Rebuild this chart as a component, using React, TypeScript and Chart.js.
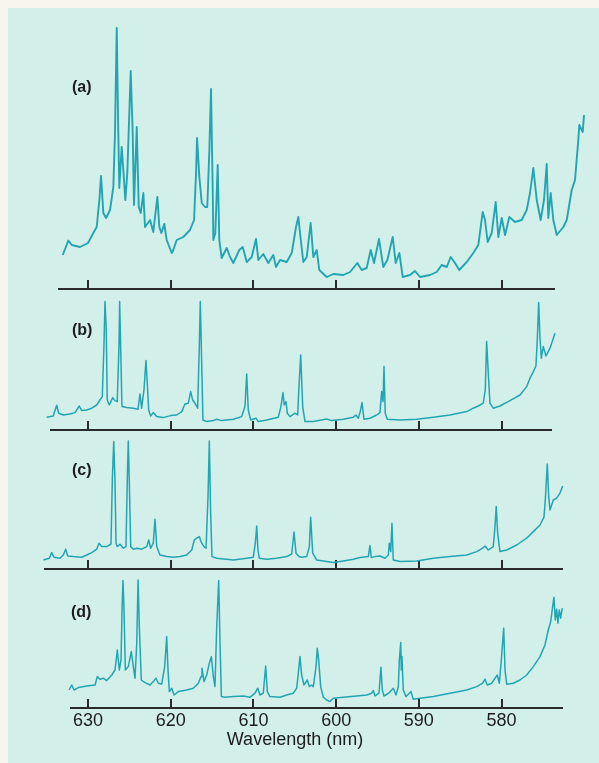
import React, { useEffect, useRef } from 'react';
import { Chart, registerables } from 'chart.js';

Chart.register(...registerables);

// ---------- data ----------
const TICKS = [630, 620, 610, 600, 590, 580];
const PANEL_LABELS = ['(a)', '(b)', '(c)', '(d)'];
const X_TITLE = 'Wavelength (nm)';

// (a) wavelength (nm) / relative intensity (arb.)
const WL_A = [633.06, 632.38, 631.97, 630.97, 630.0, 629.36, 628.95, 628.63, 628.43, 628.15, 627.82, 627.34, 626.94, 626.74, 626.53, 626.34, 626.22, 625.93, 625.73, 625.49, 625.25, 624.84, 624.6, 624.44, 624.11, 623.87, 623.63, 623.31, 623.11, 622.5, 622.11, 621.62, 621.38, 621.14, 620.78, 620.49, 619.88, 619.69, 619.28, 618.48, 617.67, 617.18, 616.94, 616.82, 616.54, 616.25, 615.85, 615.58, 615.33, 615.13, 614.92, 614.85, 614.61, 614.32, 614.13, 613.84, 613.23, 612.83, 612.43, 611.71, 611.3, 610.81, 610.21, 609.69, 609.41, 608.81, 608.2, 607.6, 607.27, 606.79, 605.98, 605.37, 604.85, 604.57, 604.37, 603.97, 603.56, 603.08, 602.76, 602.35, 602.04, 601.14, 600.34, 599.13, 598.32, 597.44, 596.91, 596.31, 595.82, 595.42, 594.82, 594.3, 593.81, 593.16, 592.8, 592.36, 591.95, 591.07, 590.47, 589.86, 588.65, 587.84, 587.24, 586.63, 586.15, 585.63, 585.11, 584.21, 583.42, 582.81, 582.28, 582.0, 581.68, 581.19, 580.71, 580.39, 579.98, 579.58, 579.06, 578.38, 577.57, 576.96, 576.56, 576.16, 575.75, 575.27, 574.87, 574.54, 574.35, 574.06, 573.74, 573.33, 572.53, 572.12, 571.52, 571.12, 570.72, 570.6, 570.19, 570.03];
const INT_A = [17, 24.2, 22, 21, 23, 28, 31, 44.5, 56.5, 38, 35.5, 39.5, 51, 78, 130.5, 78, 50.5, 71, 59.5, 44.5, 58, 109, 78, 42, 81, 41, 38, 48, 31, 34.5, 28.5, 46, 31, 28, 32.5, 24.5, 18, 19.5, 24.5, 26, 29.5, 34.5, 58, 75.5, 56, 43, 41, 41, 69.5, 100, 48, 24.5, 28, 62, 24.5, 15.5, 20.5, 16, 13, 19.5, 21, 13.5, 16, 25, 14.5, 17.5, 13, 17, 11, 14.5, 13.5, 18, 31, 36, 28, 13.5, 16, 33, 16, 19.5, 9.5, 6, 7.5, 7, 8.5, 13, 9.5, 10.5, 19.5, 13, 25, 11, 14.5, 26, 13, 18, 6, 7, 9, 6, 7, 8.5, 12, 11, 16, 13, 9.5, 13.5, 18, 22, 38.5, 34.5, 23.5, 28, 43.5, 26, 35.5, 27, 36, 33.5, 34.5, 39.5, 48, 60.5, 44.5, 34.5, 44.5, 62.5, 35.5, 48, 34.5, 27, 31, 34.5, 49.5, 54.5, 74.5, 82, 78.5, 87];

// (b)
const WL_B = [634.99, 634.2, 633.78, 633.54, 632.99, 632.18, 631.57, 631.05, 630.76, 630.16, 629.55, 628.95, 628.55, 628.27, 628.07, 627.94, 627.79, 627.67, 627.42, 627.01, 626.74, 626.46, 626.25, 626.17, 626.05, 625.89, 625.32, 624.52, 623.95, 623.71, 623.51, 623.23, 622.99, 622.83, 622.66, 622.42, 622.11, 621.69, 620.9, 620.0, 619.28, 618.67, 618.27, 617.87, 617.58, 617.34, 617.06, 616.74, 616.54, 616.42, 616.25, 616.1, 615.65, 614.85, 614.44, 613.84, 612.43, 611.42, 611.02, 610.81, 610.62, 610.33, 609.69, 609.41, 608.39, 606.99, 606.67, 606.42, 606.27, 606.06, 605.9, 605.58, 604.97, 604.65, 604.49, 604.28, 604.04, 603.76, 602.76, 601.14, 600.54, 599.13, 597.92, 597.6, 597.32, 597.08, 596.87, 596.63, 595.91, 595.1, 594.7, 594.49, 594.33, 594.21, 594.06, 593.81, 592.28, 590.26, 588.25, 586.23, 584.21, 583.42, 582.81, 582.21, 581.97, 581.8, 581.6, 581.4, 581.0, 580.19, 578.98, 577.77, 576.96, 576.56, 576.16, 575.84, 575.68, 575.51, 575.35, 575.19, 574.95, 574.63, 574.14, 573.54];
const INT_B = [6.4, 7, 12.4, 8.4, 7.5, 8, 8.7, 12, 9.7, 10, 10.9, 12.5, 15, 16.7, 41.7, 64.2, 50, 15, 12.5, 16.2, 14.7, 14.2, 41.7, 64.2, 41.7, 11.7, 11.2, 10.9, 10.4, 18, 10.9, 20, 34.7, 23.4, 10, 7, 8.7, 6.7, 6.2, 7.2, 7.5, 9.2, 13, 13.4, 19.2, 15, 13.4, 10.9, 41.7, 64.2, 33.4, 5, 4.2, 4.7, 5.4, 4.7, 5.4, 6.7, 11.7, 28, 10, 5, 5.9, 4.2, 5, 6.4, 11.7, 18.7, 12.5, 14.2, 8.4, 6.7, 8.4, 7.5, 21.7, 37.5, 11.7, 4.2, 4.2, 5.5, 4.7, 5.4, 6.4, 7.5, 5.9, 9.2, 13.7, 5.4, 5.9, 7.5, 8.7, 19.2, 14.2, 31.7, 8.4, 5.4, 5, 5.4, 6.4, 7.5, 9.2, 10.9, 12, 13.4, 20, 44.2, 28.4, 13.4, 10.9, 12, 14.7, 17.5, 21.7, 25.9, 29.2, 32, 45, 63.7, 45.9, 35.9, 41.7, 37, 40.9, 48.4];

// (c)
const WL_C = [635.4, 634.68, 634.39, 634.11, 633.39, 632.99, 632.7, 632.45, 631.78, 630.76, 630.16, 629.55, 628.95, 628.67, 628.34, 627.74, 627.22, 627.06, 626.89, 626.74, 626.61, 626.46, 626.13, 625.73, 625.41, 625.25, 625.13, 625.01, 624.84, 624.52, 624.11, 623.51, 622.9, 622.66, 622.42, 622.11, 621.9, 621.69, 621.3, 620.49, 619.69, 618.88, 618.07, 617.46, 617.15, 616.86, 616.54, 616.34, 615.98, 615.73, 615.49, 615.33, 615.17, 615.01, 614.44, 612.43, 610.81, 610.02, 609.77, 609.6, 609.45, 609.29, 608.39, 607.19, 605.98, 605.37, 605.09, 604.85, 604.49, 604.16, 603.56, 603.24, 603.08, 602.83, 602.35, 601.14, 600.34, 599.13, 597.92, 597.12, 596.11, 595.91, 595.75, 595.3, 594.7, 594.09, 593.69, 593.57, 593.4, 593.25, 593.09, 592.28, 590.26, 588.25, 586.23, 584.21, 583.0, 582.28, 582.0, 581.6, 581.0, 580.79, 580.64, 580.47, 580.19, 579.38, 578.17, 576.96, 576.16, 575.35, 574.87, 574.71, 574.47, 574.3, 574.14, 573.74, 573.33, 572.94, 572.61];
const INT_C = [4.5, 5.4, 8.2, 5.9, 5.4, 7, 9.9, 6.5, 6.2, 5.9, 7, 8.2, 9.9, 12.9, 11.2, 11.2, 12.5, 44.5, 63.7, 44.5, 12.9, 11.2, 12.4, 10.4, 11.2, 44.5, 64, 44.5, 11.2, 9.9, 10.4, 9.9, 11.2, 14.5, 10.4, 12.9, 24.9, 11.2, 7, 6.2, 5.9, 6.2, 7, 9.5, 14.5, 15.4, 16.2, 13.7, 11.2, 10.4, 36.2, 64, 27.9, 6.2, 5.4, 4.5, 5.4, 5.9, 12.9, 21.5, 9.5, 5.4, 4.9, 5.4, 6.2, 7.5, 18.5, 7.9, 6.2, 5.9, 6.2, 11.2, 25.9, 7.9, 4.5, 3.7, 3.2, 4, 4.9, 5.7, 6.2, 11.7, 5.7, 6.2, 6.5, 5.4, 7, 12.9, 8.7, 22.9, 4.5, 3.7, 4, 5.4, 6.2, 7, 8.7, 10.4, 11.5, 9.5, 11.2, 21.2, 31.2, 17.9, 8.7, 9.5, 12, 15.4, 18.7, 22, 25.9, 34.5, 52.5, 36.2, 29.5, 34.5, 35.4, 37.9, 41.5];

// (d)
const WL_D = [632.3, 631.97, 631.69, 631.17, 630.16, 629.15, 628.88, 628.55, 628.15, 627.74, 627.13, 626.74, 626.46, 626.22, 626.01, 625.89, 625.77, 625.65, 625.49, 625.13, 624.77, 624.52, 624.32, 624.11, 623.95, 623.8, 623.56, 623.11, 622.5, 622.11, 621.78, 621.5, 621.09, 620.73, 620.49, 620.33, 620.17, 619.88, 619.6, 619.08, 618.07, 617.27, 616.66, 616.34, 616.22, 615.98, 615.65, 615.33, 615.09, 614.85, 614.65, 614.44, 614.2, 614.04, 613.88, 613.44, 612.43, 611.22, 610.41, 609.81, 609.48, 609.21, 608.81, 608.52, 608.32, 608.0, 606.79, 605.98, 605.18, 604.77, 604.57, 604.37, 604.17, 603.89, 603.49, 603.24, 602.95, 602.76, 602.43, 602.28, 602.11, 601.87, 601.55, 601.14, 600.74, 600.34, 599.13, 597.51, 596.31, 595.7, 595.51, 595.3, 594.82, 594.7, 594.58, 594.42, 594.21, 593.57, 593.09, 592.76, 592.48, 592.36, 592.19, 592.12, 592.04, 591.88, 591.55, 591.15, 590.95, 590.67, 589.86, 588.25, 586.23, 584.21, 583.0, 582.28, 582.0, 581.72, 581.19, 580.52, 580.27, 580.03, 579.74, 579.58, 579.38, 578.58, 577.77, 576.96, 576.16, 575.35, 574.75, 574.35, 574.06, 573.82, 573.66, 573.5, 573.33, 573.18, 573.02, 572.85, 572.66];
const INT_D = [9, 11.5, 9, 10.2, 11, 11.5, 15.7, 14.4, 14.9, 13.7, 16.5, 19, 29, 19, 24, 49, 63.7, 49, 19, 20.7, 28.2, 20.7, 14.9, 32.4, 64, 40.7, 14, 12.7, 11.5, 13.2, 14.9, 12.4, 12, 20.7, 35.7, 19, 8.2, 9.9, 6.5, 8.2, 9, 9.9, 12.4, 15.7, 19.9, 13.2, 16.5, 22.4, 25.7, 15.7, 10.7, 40.7, 63.7, 32.4, 5.7, 5.4, 5.7, 6, 5.4, 7.4, 9.9, 6.5, 7.4, 21, 8.2, 5.7, 5.4, 6.5, 7.4, 9.9, 17.4, 25.7, 16.5, 11.5, 14, 10.7, 11.5, 10.7, 20.7, 29.9, 24, 10.7, 5.4, 4, 3.2, 4.9, 5.4, 6, 6.5, 7.4, 8.7, 6, 7.4, 14, 20.4, 9, 6, 7.7, 9.9, 6.5, 10.7, 24, 32.7, 19, 25.7, 9, 5.7, 7.4, 8.2, 4.4, 4.9, 5.7, 7.4, 9, 10.7, 12.4, 14.4, 11.5, 12.4, 16.5, 12.4, 24, 39.9, 19, 11.9, 12.4, 14, 16.5, 20.7, 25.7, 31.5, 39, 43.2, 50.7, 55.4, 44, 49.4, 42.4, 49, 44.9, 49.9];

// axis extents (nm) and intensity ranges for each panel
const X_MIN = [573.66, 574.02, 572.69, 572.69];
const X_MAX = [633.51, 634.47, 635.2, 632.06];
const Y_MAX = [135, 70, 70, 70];

// ---------- style / layout ----------
const W = 599;
const H = 763;
const BG = '#d3efe9';
const PAPER = '#f7f5ee';
const LINE = '#22a5b3';
const AXIS = '#2a2a2a';
const TEXT = '#1c1c1c';
const FONT = '"Liberation Sans", Arial, Helvetica, sans-serif';
const LINE_W = [1.9, 1.5, 1.5, 1.5];
const SCALE_H = [0, 0, 0, 45];

const PADS = [
  { left: 59, right: W - 554, top: 19, bottom: H - 289 },
  { left: 51, right: W - 551, top: 290, bottom: H - 430 },
  { left: 45, right: W - 562, top: 429, bottom: H - 569 },
  { left: 71, right: W - 562, top: 568, bottom: H - 708 - 45 },
];
const LABEL_POS = [
  { left: 72, top: 77 },
  { left: 72, top: 320 },
  { left: 72, top: 460 },
  { left: 71, top: 602 },
];

const SERIES = [
  [WL_A, INT_A],
  [WL_B, INT_B],
  [WL_C, INT_C],
  [WL_D, INT_D],
];

export default function App() {
  const refs = useRef<(HTMLCanvasElement | null)[]>([]);

  useEffect(() => {
    const charts: Chart[] = [];
    SERIES.forEach(([wl, inten], i) => {
      const canvas = refs.current[i];
      if (!canvas) return;
      const showLabels = i === SERIES.length - 1;
      const chart = new Chart(canvas, {
        type: 'line',
        data: {
          datasets: [
            {
              data: wl.map((x, k) => ({ x, y: inten[k] })),
              borderColor: LINE,
              borderWidth: LINE_W[i],
              pointRadius: 0,
              tension: 0,
              fill: false,
              clip: false,
              borderJoinStyle: 'round',
            } as any,
          ],
        },
        options: {
          animation: false,
          responsive: false,
          devicePixelRatio: 1,
          events: [],
          layout: { padding: PADS[i] },
          plugins: {
            legend: { display: false },
            tooltip: { enabled: false },
            title: { display: false },
          },
          scales: {
            x: {
              type: 'linear',
              position: 'bottom',
              reverse: true,
              min: X_MIN[i],
              max: X_MAX[i],
              afterBuildTicks: (s: any) => {
                s.ticks = TICKS.map((v) => ({ value: v }));
              },
              afterFit: (s: any) => {
                s.height = SCALE_H[i];
              },
              grid: {
                display: true,
                drawOnChartArea: false,
                drawTicks: true,
                tickLength: -9,
                color: AXIS,
                lineWidth: 2,
              },
              border: { display: true, color: AXIS, width: 2 },
              ticks: {
                display: showLabels,
                autoSkip: false,
                maxRotation: 0,
                minRotation: 0,
                padding: 11,
                color: TEXT,
                font: { family: FONT, size: 18 },
                callback: (v: any) => String(v),
              },
            } as any,
            y: { display: false, min: 0, max: Y_MAX[i] },
          },
        },
      });
      charts.push(chart);
    });
    return () => charts.forEach((c) => c.destroy());
  }, []);

  return (
    <div style={{ position: 'fixed', left: 0, top: 0, width: W, height: H, background: PAPER, overflow: 'hidden' }}>
      <div style={{ position: 'absolute', left: 8, top: 8, right: 0, bottom: 0, background: BG }} />
      {SERIES.map((_, i) => (
        <canvas
          key={i}
          ref={(el) => {
            refs.current[i] = el;
          }}
          width={W}
          height={H}
          style={{ position: 'absolute', left: 0, top: 0, width: W, height: H, display: 'block' }}
        />
      ))}
      {PANEL_LABELS.map((t, i) => (
        <div
          key={t}
          style={{
            position: 'absolute',
            left: LABEL_POS[i].left,
            top: LABEL_POS[i].top,
            font: `bold 16px ${FONT}`,
            lineHeight: '19px',
            color: TEXT,
          }}
        >
          {t}
        </div>
      ))}
      <div
        style={{
          position: 'absolute',
          left: 195,
          width: 200,
          top: 728,
          textAlign: 'center',
          font: `18px ${FONT}`,
          lineHeight: '22px',
          color: TEXT,
        }}
      >
        {X_TITLE}
      </div>
    </div>
  );
}
